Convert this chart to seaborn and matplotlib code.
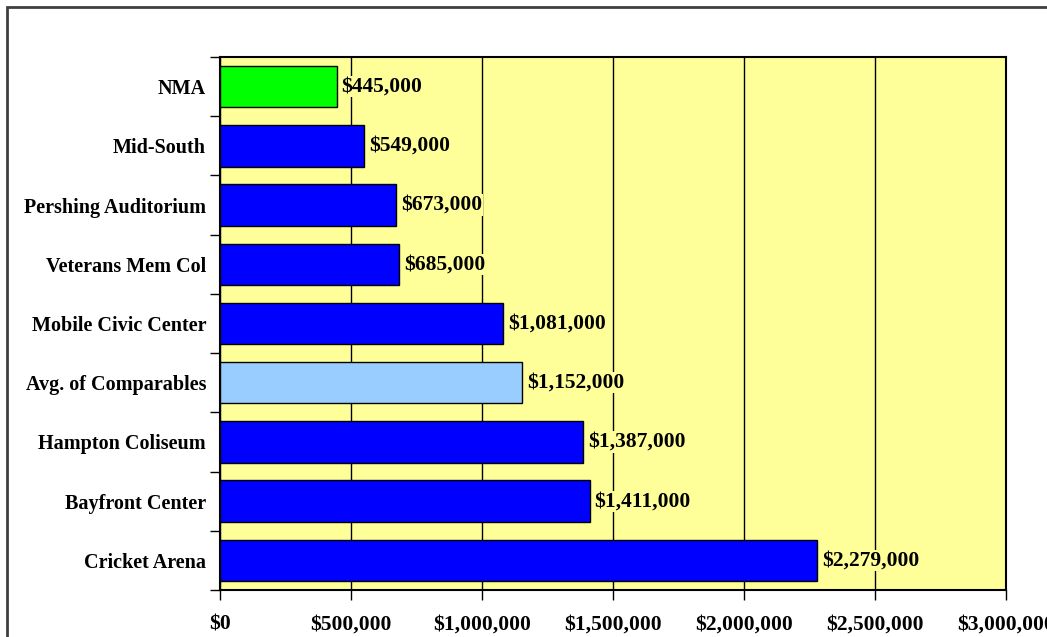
import pandas as pd
import numpy as np
import matplotlib.pyplot as plt
import matplotlib.patches as mpatches
from matplotlib.ticker import FuncFormatter, MultipleLocator
import seaborn as sb

# Dados
venues = ['NMA', 'Mid-South', 'Pershing Auditorium', 'Veterans Mem Col',
          'Mobile Civic Center', 'Avg. of Comparables', 'Hampton Coliseum',
          'Bayfront Center', 'Cricket Arena']
expenses = [445000, 549000, 673000, 685000, 1081000, 1152000, 1387000,
            1411000, 2279000]
bar_colors = ['#00FF00', '#0000FF', '#0000FF', '#0000FF', '#0000FF',
              '#99CCFF', '#0000FF', '#0000FF', '#0000FF']

df = pd.DataFrame({'venue': venues, 'expense': expenses})

sb.set_style("white")
plt.rcParams['font.family'] = ['Liberation Serif', 'DejaVu Serif']
plt.rcParams['font.weight'] = 'bold'
plt.rcParams['text.color'] = 'black'
plt.rcParams['xtick.color'] = 'black'
plt.rcParams['ytick.color'] = 'black'

fig = plt.figure(figsize=(10.47, 6.37), dpi=100)
ax = fig.add_axes([0.2101, 0.0738, 0.7507, 0.8367])

# moldura externa do grafico (cortada a direita e embaixo)
fig.patches.append(mpatches.Rectangle((7 / 1047, -0.1), 1.2, 1 - 7 / 637 + 0.1,
                                      transform=fig.transFigure, fill=False,
                                      edgecolor='#404040', linewidth=2))

ax.set_facecolor('#FFFF99')
sb.barplot(data=df, x='expense', y='venue', hue='venue', palette=bar_colors,
           orient='h', width=0.7, edgecolor='black', linewidth=1,
           saturation=1, legend=False, ax=ax, zorder=3)

ax.set_xlim(0, 3000000)
ax.set_ylim(8.5, -0.5)
ax.xaxis.set_major_locator(MultipleLocator(500000))
ax.xaxis.set_major_formatter(FuncFormatter(lambda v, p: f'${v:,.0f}'))
ax.grid(axis='x', color='black', linewidth=1, zorder=0)
ax.set_axisbelow(True)
ax.set_xlabel('')
ax.set_ylabel('')

# ticks do eixo y entre as categorias
ax.set_yticks(np.arange(-0.5, 9, 1), minor=True)
ax.tick_params(axis='y', which='major', length=0, pad=10, labelsize=14.5,
               labelcolor='black')
ax.tick_params(axis='y', which='minor', length=7, width=1, color='black',
               direction='out', left=True)
ax.tick_params(axis='x', which='major', length=7, width=1, color='black',
               direction='out', bottom=True, pad=11, labelsize=15.5,
               labelcolor='black')
for lbl in ax.get_xticklabels() + ax.get_yticklabels():
    lbl.set_fontweight('bold')

for spine in ax.spines.values():
    spine.set_visible(True)
    spine.set_color('black')
    spine.set_linewidth(1.5)

# rotulos de valor (fundo amarelo esconde a grade)
for i, v in enumerate(expenses):
    ax.text(v + 19000, i, f'${v:,.0f}', va='center', ha='left',
            fontsize=15.5, fontweight='bold', color='black', zorder=4,
            bbox=dict(facecolor='#FFFF99', edgecolor='none', pad=0.5))

fig.savefig('out.png', dpi=100)
